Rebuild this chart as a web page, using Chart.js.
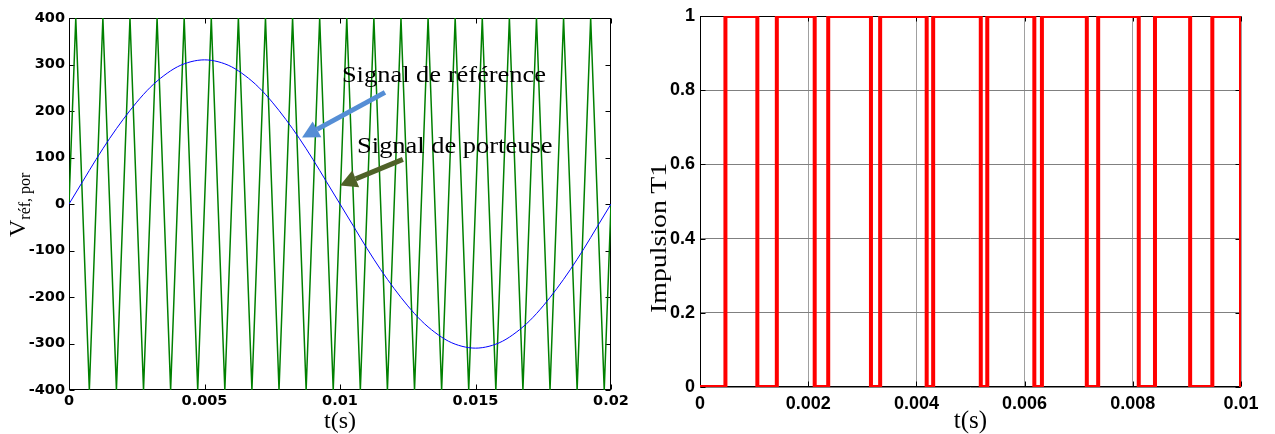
<!DOCTYPE html>
<html>
<head>
<meta charset="utf-8">
<script src="https://cdn.jsdelivr.net/npm/chart.js@4.4.0/dist/chart.umd.min.js"></script>
<style>
  html, body { margin: 0; padding: 0; background: #fff; }
  body { width: 1275px; height: 434px; position: relative; overflow: hidden; }
  .box { position: absolute; top: 0; height: 434px; }
  .ylab { position: absolute; transform-origin: 0 0; transform: rotate(-90deg); font-family: "Liberation Serif", "Times New Roman", serif; white-space: nowrap; color: #000; }
</style>
</head>
<body>
<div class="box" style="left:0;width:640px"><canvas id="chartRef"></canvas></div>
<div class="box" style="left:640px;width:635px"><canvas id="chartPulse"></canvas></div>
<div class="ylab" style="left:5px;top:237px;font-size:24px;line-height:24px">V<span style="font-size:16px;position:relative;top:5px">réf, por</span></div>
<div class="ylab" style="left:646px;top:313px;font-size:24px;line-height:24px;transform:rotate(-90deg) scale(1.16,1)">Impulsion T1</div>
<script>
// signal de référence (V)
const refTime = [0, 0.0005, 0.001, 0.0015, 0.002, 0.0025, 0.003, 0.0035, 0.004, 0.0045,
    0.005, 0.0055, 0.006, 0.0065, 0.007, 0.0075, 0.008, 0.0085, 0.009, 0.0095,
    0.01, 0.0105, 0.011, 0.0115, 0.012, 0.0125, 0.013, 0.0135, 0.014, 0.0145,
    0.015, 0.0155, 0.016, 0.0165, 0.017, 0.0175, 0.018, 0.0185, 0.019, 0.0195, 0.02];
const refValue = [0, 48, 96, 141, 182, 219, 251, 276, 295, 306,
    310, 306, 295, 276, 251, 219, 182, 141, 96, 48,
    0, -48, -96, -141, -182, -219, -251, -276, -295, -306,
    -310, -306, -295, -276, -251, -219, -182, -141, -96, -48, 0];

// signal de porteuse (sommets du triangle)
const carrierTime = [0, 0.00025, 0.00075, 0.00125, 0.00175, 0.00225, 0.00275, 0.00325, 0.00375,
    0.00425, 0.00475, 0.00525, 0.00575, 0.00625, 0.00675, 0.00725, 0.00775, 0.00825, 0.00875,
    0.00925, 0.00975, 0.01025, 0.01075, 0.01125, 0.01175, 0.01225, 0.01275, 0.01325, 0.01375,
    0.01425, 0.01475, 0.01525, 0.01575, 0.01625, 0.01675, 0.01725, 0.01775, 0.01825, 0.01875,
    0.01925, 0.01975, 0.02];
const carrierValue = [0, 400, -400, 400, -400, 400, -400, 400, -400,
    400, -400, 400, -400, 400, -400, 400, -400, 400, -400,
    400, -400, 400, -400, 400, -400, 400, -400, 400, -400,
    400, -400, 400, -400, 400, -400, 400, -400, 400, -400,
    400, -400, 0];

// impulsion T1 (instants de commutation)
const pulseTime = [0, 0.00047, 0.00106, 0.00142, 0.00212, 0.00237, 0.00316, 0.00333, 0.00419,
    0.00431, 0.00519, 0.00531, 0.00618, 0.00632, 0.00715, 0.00736, 0.00811, 0.00841,
    0.00906, 0.00947, 0.01];
const pulseState = [0, 1, 0, 1, 0, 1, 0, 1, 0, 1, 0, 1, 0, 1, 0, 1, 0, 1, 0, 1, 0];

const refTicksX = [0, 0.005, 0.01, 0.015, 0.02];
const refTicksY = [-400, -300, -200, -100, 0, 100, 200, 300, 400];
const pulseTicksX = [0, 0.002, 0.004, 0.006, 0.008, 0.01];
const pulseTicksY = [0, 0.2, 0.4, 0.6, 0.8, 1];

const toPoints = (xs, ys) => xs.map((x, i) => ({ x: x, y: ys[i] }));
const serif = '"Liberation Serif", "Times New Roman", serif';

// cadre noir + petites graduations vers l'intérieur
const frame = {
    id: "frame",
    beforeDatasetsDraw(chart) {
        const { ctx, chartArea: a, scales: { x, y } } = chart;
        const L = Math.round(a.left) + 0.5, R = Math.round(a.right) - 0.5;
        const T = Math.round(a.top) + 0.5, B = Math.round(a.bottom) - 0.5;
        ctx.save();
        ctx.strokeStyle = "#000";
        ctx.lineWidth = 1;
        ctx.beginPath();
        x.ticks.forEach(t => {
            const px = Math.round(x.getPixelForValue(t.value)) + 0.5;
            ctx.moveTo(px, B); ctx.lineTo(px, B - 5);
            ctx.moveTo(px, T); ctx.lineTo(px, T + 5);
        });
        y.ticks.forEach(t => {
            const py = Math.round(y.getPixelForValue(t.value)) + 0.5;
            ctx.moveTo(L, py); ctx.lineTo(L + 5, py);
            ctx.moveTo(R, py); ctx.lineTo(R - 5, py);
        });
        ctx.stroke();
        ctx.strokeRect(L, T, R - L, B - T);
        ctx.restore();
    }
};

// textes + flèches du graphe de gauche
const notes = [
    { text: "Signal de référence", at: [0.01007, 262] },
    { text: "Signal de porteuse", at: [0.01063, 109] }
];
const arrows = [
    { from: [0.01166, 240], to: [0.0086, 143], color: "rgb(85,142,213)" },
    { from: [0.01232, 96], to: [0.0100, 40], color: "rgb(79,98,40)" }
];

function drawArrow(ctx, x0, y0, x1, y1, color) {
    const ang = Math.atan2(y1 - y0, x1 - x0);
    const head = 17, half = 9;
    const bx = x1 - head * Math.cos(ang), by = y1 - head * Math.sin(ang);
    ctx.strokeStyle = color;
    ctx.lineWidth = 5;
    ctx.beginPath(); ctx.moveTo(x0, y0); ctx.lineTo(bx, by); ctx.stroke();
    ctx.fillStyle = color;
    ctx.beginPath();
    ctx.moveTo(x1, y1);
    ctx.lineTo(bx + half * Math.sin(ang), by - half * Math.cos(ang));
    ctx.lineTo(bx - half * Math.sin(ang), by + half * Math.cos(ang));
    ctx.closePath();
    ctx.fill();
}

const annotate = {
    id: "annotate",
    afterDatasetsDraw(chart) {
        const { ctx, scales: { x, y } } = chart;
        ctx.save();
        ctx.font = "23px " + serif;
        ctx.fillStyle = "#000";
        ctx.textAlign = "left";
        ctx.textBaseline = "alphabetic";
        notes.forEach(n => {
            ctx.save();
            ctx.translate(x.getPixelForValue(n.at[0]), y.getPixelForValue(n.at[1]));
            ctx.scale(1.15, 1); // le texte de l'original est un peu étiré
            ctx.fillText(n.text, 0, 0);
            ctx.restore();
        });
        arrows.forEach(a => drawArrow(ctx,
            x.getPixelForValue(a.from[0]), y.getPixelForValue(a.from[1]),
            x.getPixelForValue(a.to[0]), y.getPixelForValue(a.to[1]), a.color));
        ctx.restore();
    }
};

const tickFontSmall = { family: '"DejaVu Sans", sans-serif', size: 14.5, weight: "bold" };
const tickFontBig = { family: '"Liberation Sans", Arial, sans-serif', size: 18, weight: "bold" };

new Chart(document.getElementById("chartRef"), {
    type: "line",
    data: {
        datasets: [
            { label: "Signal de référence", data: toPoints(refTime, refValue), borderColor: "rgb(0,0,255)",
              borderWidth: 1, pointRadius: 0, cubicInterpolationMode: "monotone" },
            { label: "Signal de porteuse", data: toPoints(carrierTime, carrierValue), borderColor: "rgb(0,128,0)",
              borderWidth: 1.5, pointRadius: 0, tension: 0 }
        ]
    },
    options: {
        responsive: true,
        maintainAspectRatio: false,
        animation: false,
        layout: { padding: { top: 18, right: 29, left: 0, bottom: 0 } },
        plugins: { legend: { display: false }, tooltip: { enabled: false } },
        scales: {
            x: {
                type: "linear", min: 0, max: 0.02,
                afterBuildTicks: s => { s.ticks = refTicksX.map(v => ({ value: v })); },
                afterFit: s => { s.height = 44; },
                grid: { display: false, drawTicks: false },
                border: { display: false },
                ticks: { font: tickFontSmall, color: "#000", padding: 3, maxRotation: 0, autoSkip: false, callback: v => String(v) },
                title: { display: true, text: "t(s)", color: "#000", padding: 0, font: { family: serif, size: 24, lineHeight: 1 } }
            },
            y: {
                type: "linear", min: -400, max: 400,
                afterBuildTicks: s => { s.ticks = refTicksY.map(v => ({ value: v })); },
                afterFit: s => { s.width = 69; },
                grid: { display: false, drawTicks: false },
                border: { display: false },
                ticks: { font: tickFontSmall, color: "#000", padding: 4, autoSkip: false, callback: v => String(v) }
            }
        }
    },
    plugins: [frame, annotate]
});

new Chart(document.getElementById("chartPulse"), {
    type: "line",
    data: {
        datasets: [
            { label: "Impulsion T1", data: toPoints(pulseTime, pulseState), borderColor: "rgb(255,0,0)",
              borderWidth: 4, pointRadius: 0, stepped: "before" }
        ]
    },
    options: {
        responsive: true,
        maintainAspectRatio: false,
        animation: false,
        layout: { padding: { top: 16, right: 34, left: 0, bottom: 0 } },
        plugins: { legend: { display: false }, tooltip: { enabled: false } },
        scales: {
            x: {
                type: "linear", min: 0, max: 0.01,
                afterBuildTicks: s => { s.ticks = pulseTicksX.map(v => ({ value: v })); },
                afterFit: s => { s.height = 47; },
                grid: { color: "#a0a0a0", lineWidth: 1, drawTicks: false },
                border: { display: false },
                ticks: { font: tickFontBig, color: "#000", padding: 6, maxRotation: 0, autoSkip: false, callback: v => String(v) },
                title: { display: true, text: "t(s)", color: "#000", padding: 0, font: { family: serif, size: 25, lineHeight: 1 } }
            },
            y: {
                type: "linear", min: 0, max: 1,
                afterBuildTicks: s => { s.ticks = pulseTicksY.map(v => ({ value: v })); },
                afterFit: s => { s.width = 60; },
                grid: { color: "#808080", lineWidth: 1, drawTicks: false },
                border: { display: false },
                ticks: { font: tickFontBig, color: "#000", padding: 5, autoSkip: false, callback: v => String(v) }
            }
        }
    },
    plugins: [frame]
});
</script>
</body>
</html>
